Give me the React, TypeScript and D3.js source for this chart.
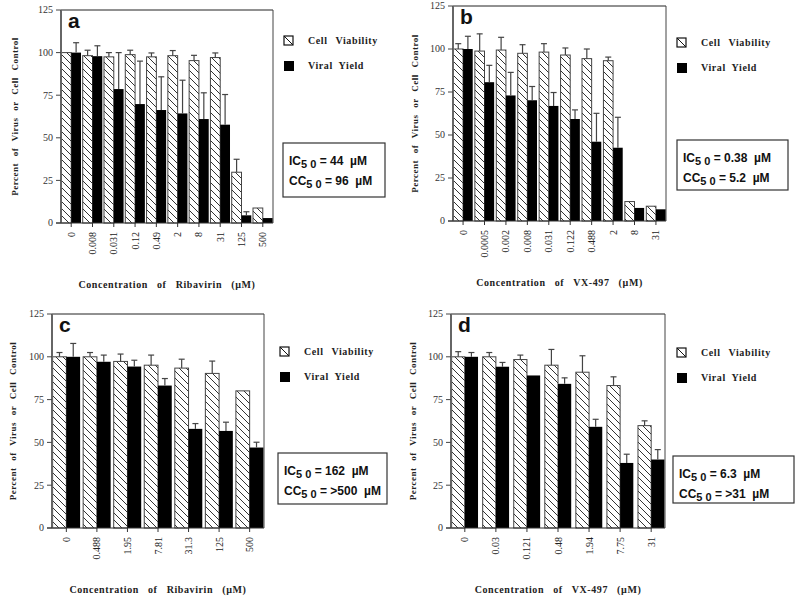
import React from 'react';
import * as d3 from 'd3';

// panel a: ribavirin
const aConc = ['0', '0.008', '0.031', '0.12', '0.49', '2', '8', '31', '125', '500'];
const aViability = [100, 98.2, 97.5, 98.8, 97.5, 98.2, 95.3, 97.1, 29.8, 8.8];
const aViabilityErr = [0, 3.2, 2.5, 2.6, 2.3, 3, 3.1, 2.7, 7.6, 0];
const aYield = [100, 97.9, 78.6, 69.8, 66.3, 64.3, 61, 57.7, 4.5, 2.9];
const aYieldErr = [5.8, 6.1, 21.4, 25.2, 19.5, 19.5, 15.4, 17.7, 2.1, 0];

// panel b: VX-497
const bConc = ['0', '0.0005', '0.002', '0.008', '0.031', '0.122', '0.488', '2', '8', '31'];
const bViability = [100, 98.8, 99.4, 97.5, 98.2, 96.5, 94.4, 93.2, 11.3, 8.6];
const bViabilityErr = [3.1, 10, 7.4, 5, 4.9, 4.1, 5.6, 2.1, 0, 0];
const bYield = [100, 80.7, 73, 70.2, 66.9, 59.3, 46.1, 42.6, 7.6, 6.8];
const bYieldErr = [7.4, 9.8, 13.4, 8, 7.8, 5.3, 16.5, 17.7, 0, 0];

// panel c: ribavirin
const cConc = ['0', '0.488', '1.95', '7.81', '31.3', '125', '500'];
const cViability = [100, 100, 97.3, 95.1, 93.4, 90.3, 80.1];
const cViabilityErr = [2.5, 2.5, 4.3, 5.9, 5.2, 7.2, 0];
const cYield = [100, 97.1, 94.3, 83.2, 57.9, 56.7, 47];
const cYieldErr = [7.8, 3.9, 3.7, 4.1, 3.1, 5.1, 3.1];

// panel d: VX-497
const dConc = ['0', '0.03', '0.121', '0.48', '1.94', '7.75', '31'];
const dViability = [100, 100, 98.4, 95.1, 91, 83.2, 59.8];
const dViabilityErr = [3, 2.5, 2.6, 9.2, 9.6, 5.1, 2.8];
const dYield = [100, 94.2, 89.1, 84.2, 59.1, 38, 40];
const dYieldErr = [2.5, 2.5, 0, 3.5, 4.4, 5.1, 5.8];

const yTicks = [0, 25, 50, 75, 100, 125];

const serif = '"Liberation Serif", "DejaVu Serif", serif';
const sans = '"Liberation Sans", Arial, sans-serif';

type PanelProps = {
  letter: string;
  drug: string;
  conc: string[];
  cv: number[];
  cvErr: number[];
  vy: number[];
  vyErr: number[];
  left: number;
  right: number;
  top: number;
  zero: number;
  pad: number;
  titleX: number;
  legendX: number;
  legendY: number;
  box: [number, number, number, number];
  ic: string;
  cc: string;
};

const ErrorBar = ({ cx, y0, y1 }: { cx: number; y0: number; y1: number }) => (
  <g stroke="#444" strokeWidth={1.2}>
    <line x1={cx} x2={cx} y1={y0} y2={y1} />
    <line x1={cx - 3} x2={cx + 3} y1={y1} y2={y1} />
  </g>
);

const Panel = (p: PanelProps) => {
  const y = d3.scaleLinear().domain([0, 125]).range([p.zero, p.top]);
  const x = d3.scaleBand().domain(p.conc).range([p.left, p.right]).paddingInner(p.pad).paddingOuter(0.02);
  const bw = x.bandwidth() / 2;
  const midY = (p.top + p.zero) / 2;
  const midX = (p.left + p.right) / 2;
  const [bx, by, bW, bH] = p.box;

  return (
    <g>
      {/* frame */}
      <line x1={p.left} x2={p.right} y1={p.top} y2={p.top} stroke="#222" strokeWidth={1} />
      <line x1={p.right} x2={p.right} y1={p.top} y2={p.zero} stroke="#444" strokeWidth={1} />

      {/* bars */}
      {p.conc.map((c, i) => {
        const x0 = x(c) as number;
        return (
          <g key={c}>
            <rect x={x0} y={y(p.cv[i])} width={bw} height={p.zero - y(p.cv[i])}
              fill="url(#hatch)" stroke="#444" strokeWidth={1} />
            <rect x={x0 + bw} y={y(p.vy[i])} width={bw} height={p.zero - y(p.vy[i])} fill="#000" />
            {p.cvErr[i] > 0 && <ErrorBar cx={x0 + bw / 2} y0={y(p.cv[i])} y1={y(p.cv[i] + p.cvErr[i])} />}
            {p.vyErr[i] > 0 && <ErrorBar cx={x0 + bw * 1.5} y0={y(p.vy[i])} y1={y(p.vy[i] + p.vyErr[i])} />}
          </g>
        );
      })}

      {/* y axis */}
      <line x1={p.left} x2={p.left} y1={p.top} y2={p.zero} stroke="#666" strokeWidth={2} />
      {yTicks.map(t => (
        <g key={t}>
          <line x1={p.left - 5} x2={p.left} y1={y(t)} y2={y(t)} stroke="#444" />
          <text x={p.left - 8} y={y(t)} dy="0.33em" textAnchor="end" fontFamily={serif} fontSize={10} fill="#333">{t}</text>
        </g>
      ))}

      {/* x axis */}
      <line x1={p.left - 5} x2={p.right} y1={p.zero} y2={p.zero} stroke="#333" strokeWidth={1.2} />
      {p.conc.map(c => {
        const cx = (x(c) as number) + bw;
        return (
          <g key={c}>
            <line x1={cx} x2={cx} y1={p.zero} y2={p.zero + 4} stroke="#333" />
            <text transform={`translate(${cx + 3.5},${p.zero + 9}) rotate(-90)`} textAnchor="end"
              fontFamily={serif} fontSize={10} fill="#222">{c}</text>
          </g>
        );
      })}

      {/* titles */}
      <text transform={`translate(${p.titleX},${midY}) rotate(-90)`} textAnchor="middle"
        fontFamily={serif} fontWeight="bold" fontSize={9} letterSpacing={0.5} wordSpacing={4} fill="#222">
        Percent of Virus or Cell Control
      </text>
      <text x={midX} y={p.zero + 65} textAnchor="middle" fontFamily={serif} fontWeight="bold"
        fontSize={10} letterSpacing={0.6} wordSpacing={6} fill="#222">
        {`Concentration of ${p.drug} (µM)`}
      </text>
      <text x={p.left + 7} y={p.top + 18} fontFamily={sans} fontWeight="bold" fontSize={21} fill="#111">{p.letter}</text>

      {/* legend */}
      <rect x={p.legendX} y={p.legendY} width={9} height={9} fill="#fff" stroke="#111" strokeWidth={1.2} />
      <line x1={p.legendX} y1={p.legendY} x2={p.legendX + 9} y2={p.legendY + 9} stroke="#111" />
      <text x={p.legendX + 24} y={p.legendY + 8} fontFamily={serif} fontWeight="bold" fontSize={10}
        letterSpacing={0.6} wordSpacing={5} fill="#222">Cell Viability</text>
      <rect x={p.legendX} y={p.legendY + 25} width={10} height={10} fill="#000" />
      <text x={p.legendX + 24} y={p.legendY + 33} fontFamily={serif} fontWeight="bold" fontSize={10}
        letterSpacing={0.6} wordSpacing={3} fill="#222">Viral Yield</text>

      {/* IC50 / CC50 box */}
      <rect x={bx} y={by} width={bW} height={bH} fill="#fff" stroke="#333" strokeWidth={1.2} />
      <text x={bx + 6} y={by + 22} fontFamily={sans} fontWeight="bold" fontSize={12} fill="#111"
        style={{ whiteSpace: 'pre' }}>
        IC<tspan dy={3} fontSize={11}>5 0</tspan><tspan dy={-3}>{` = ${p.ic}`}</tspan>
      </text>
      <text x={bx + 6} y={by + 42} fontFamily={sans} fontWeight="bold" fontSize={12} fill="#111"
        style={{ whiteSpace: 'pre' }}>
        CC<tspan dy={3} fontSize={11}>5 0</tspan><tspan dy={-3}>{` = ${p.cc}`}</tspan>
      </text>
    </g>
  );
};

export default function App() {
  return (
    <svg width={797} height={600} style={{ position: 'absolute', left: 0, top: 0, background: '#fff' }}>
      <defs>
        <pattern id="hatch" patternUnits="userSpaceOnUse" width={7} height={7}>
          <rect width={7} height={7} fill="#fff" />
          <path d="M-1,-1 L8,8 M-1,6 L1,8 M6,-1 L8,1" stroke="#333" strokeWidth={1} />
        </pattern>
      </defs>
      <Panel letter="a" drug="Ribavirin" conc={aConc} cv={aViability} cvErr={aViabilityErr} vy={aYield} vyErr={aYieldErr}
        left={61} right={273} top={10} zero={223} pad={0.08} titleX={18} legendX={284} legendY={36}
        box={[283, 143, 102, 54]} ic="44  µM" cc="96  µM" />
      <Panel letter="b" drug="VX-497" conc={bConc} cv={bViability} cvErr={bViabilityErr} vy={bYield} vyErr={bYieldErr}
        left={453} right={666} top={6} zero={221} pad={0.1} titleX={418} legendX={677} legendY={38}
        box={[677, 140, 111, 50]} ic="0.38  µM" cc="5.2  µM" />
      <Panel letter="c" drug="Ribavirin" conc={cConc} cv={cViability} cvErr={cViabilityErr} vy={cYield} vyErr={cYieldErr}
        left={52} right={264} top={314} zero={528} pad={0.1} titleX={16} legendX={280} legendY={347}
        box={[278, 453, 109, 51]} ic="162  µM" cc=">500  µM" />
      <Panel letter="d" drug="VX-497" conc={dConc} cv={dViability} cvErr={dViabilityErr} vy={dYield} vyErr={dYieldErr}
        left={451} right={665} top={314} zero={528} pad={0.15} titleX={416} legendX={677} legendY={348}
        box={[673, 456, 121, 47]} ic="6.3  µM" cc=">31  µM" />
    </svg>
  );
}
